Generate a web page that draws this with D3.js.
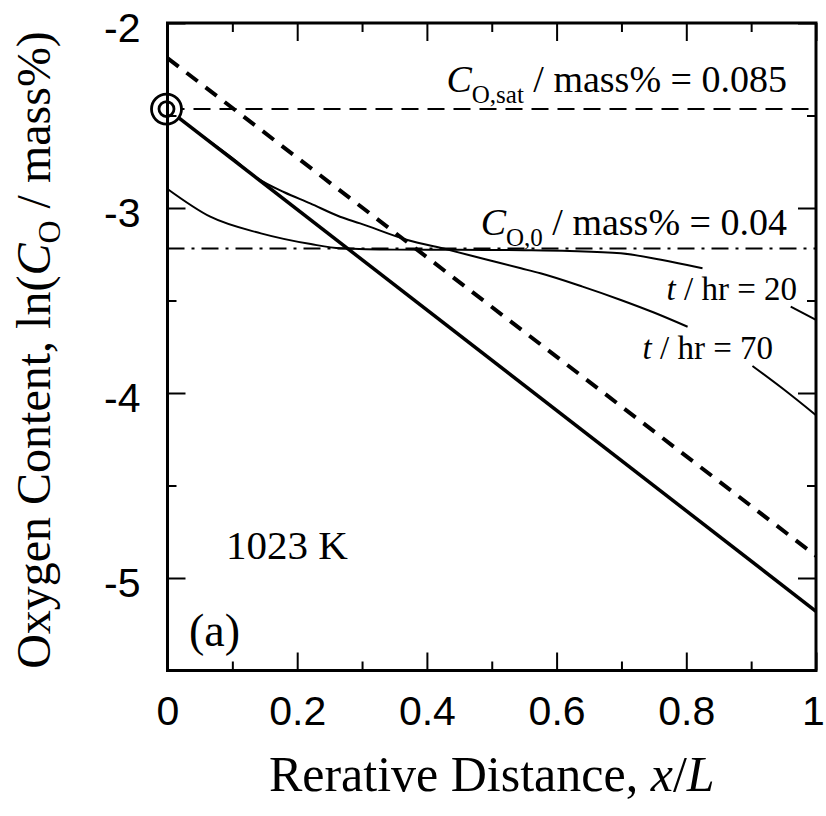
<!DOCTYPE html>
<html>
<head>
<meta charset="utf-8">
<script src="https://cdn.jsdelivr.net/npm/d3@7"></script>
<style>
  html, body { margin: 0; padding: 0; background: #fff; }
  svg { display: block; }
</style>
</head>
<body>
<svg id="chart" width="826" height="816"></svg>
<script>
// ---- data ----
const xTickValues = [0, 0.2, 0.4, 0.6, 0.8, 1];
const xTickLabels = ["0", "0.2", "0.4", "0.6", "0.8", "1"];
const xMinorTicks = [0.1, 0.3, 0.5, 0.7, 0.9];
const yTickValues = [-2, -3, -4, -5];
const yTickLabels = ["-2", "-3", "-4", "-5"];
const yMinorTicks = [-2.5, -3.5, -4.5];

// saturation and initial oxygen contents (mass%)
const cSat = 0.085;
const cInitial = 0.04;

// straight lines: x at start/end and ln(C) values
const solidX = [0, 1];
const solidY = [-2.465, -5.18];
const dashedX = [0, 1];
const dashedY = [-2.19, -4.88];

// t = 70 hr profile (two pieces, broken by its label)
const t70X = [0, 0.05, 0.10, 0.139, 0.18, 0.22, 0.266, 0.297, 0.37, 0.432, 0.49, 0.545, 0.575, 0.64, 0.699, 0.75, 0.802];
const t70Y = [-2.465, -2.60, -2.73, -2.84, -2.915, -2.975, -3.047, -3.083, -3.173, -3.225, -3.277, -3.326, -3.353, -3.425, -3.497, -3.565, -3.642];
const t70TailX = [0.902, 0.95, 1.0];
const t70TailY = [-3.854, -3.98, -4.12];

// t = 20 hr profile (two pieces, broken by its label)
const t20X = [0, 0.066, 0.144, 0.221, 0.267, 0.35, 0.45, 0.55, 0.62, 0.699, 0.761, 0.825];
const t20Y = [-2.897, -3.047, -3.137, -3.195, -3.218, -3.225, -3.226, -3.228, -3.232, -3.245, -3.28, -3.326];
const t20TailX = [0.961, 1.0];
const t20TailY = [-3.533, -3.605];

// ---- layout ----
const svg = d3.select("#chart");
const plotLeft = 167.5, plotRight = 816, plotTop = 23, plotBottom = 670.5;

const x = d3.scaleLinear().domain([0, 1]).range([plotLeft, plotRight]);
const y = d3.scaleLinear().domain([-2, -5.5]).range([plotTop, plotBottom]);

const sans = "'Liberation Sans', Arial, Helvetica, sans-serif";
const serif = "'Liberation Serif', 'Times New Roman', Times, serif";

const toPts = (xs, ys) => xs.map((v, i) => [v, ys[i]]);
const line = d3.line().x(d => x(d[0])).y(d => y(d[1]));
const smooth = d3.line().x(d => x(d[0])).y(d => y(d[1])).curve(d3.curveMonotoneX);

// reference levels
svg.append("line")
  .attr("x1", x(0)).attr("x2", x(1))
  .attr("y1", y(Math.log(cInitial))).attr("y2", y(Math.log(cInitial)))
  .attr("stroke", "#000").attr("stroke-width", 2)
  .attr("stroke-dasharray", "17,7,3,7");

svg.append("line")
  .attr("x1", x(0)).attr("x2", x(1))
  .attr("y1", y(Math.log(cSat))).attr("y2", y(Math.log(cSat)))
  .attr("stroke", "#000").attr("stroke-width", 2)
  .attr("stroke-dasharray", "17,9");

// diffusion profiles
[[t70X, t70Y], [t70TailX, t70TailY], [t20X, t20Y], [t20TailX, t20TailY]].forEach(([xs, ys]) => {
  svg.append("path")
    .attr("d", smooth(toPts(xs, ys)))
    .attr("fill", "none").attr("stroke", "#000").attr("stroke-width", 2);
});

// thick straight lines
svg.append("path")
  .attr("d", line(toPts(dashedX, dashedY)))
  .attr("fill", "none").attr("stroke", "#000").attr("stroke-width", 4)
  .attr("stroke-dasharray", "14,10");

svg.append("path")
  .attr("d", line(toPts(solidX, solidY)))
  .attr("fill", "none").attr("stroke", "#000").attr("stroke-width", 3.5);

// surface saturation marker
const mk = svg.append("g").attr("transform", `translate(${x(0) - 1},${y(Math.log(cSat))})`);
mk.append("circle").attr("r", 15).attr("fill", "#fff").attr("stroke", "#000").attr("stroke-width", 2.8);
mk.append("circle").attr("r", 7.5).attr("fill", "#fff").attr("stroke", "#000").attr("stroke-width", 2.8);

// frame
svg.append("rect")
  .attr("x", plotLeft).attr("y", plotTop)
  .attr("width", plotRight - plotLeft).attr("height", plotBottom - plotTop)
  .attr("fill", "none").attr("stroke", "#000").attr("stroke-width", 3);

// axes with inward ticks
function styleAxis(g) {
  g.select(".domain").remove();
  g.selectAll(".tick line").attr("stroke", "#000").attr("stroke-width", 2);
  g.selectAll(".tick text").attr("fill", "#000").attr("font-family", sans).attr("font-size", 41);
}

svg.append("g").attr("transform", `translate(0,${plotBottom})`)
  .call(d3.axisBottom(x).tickValues(xTickValues).tickSize(-18).tickPadding(25)
    .tickFormat((d, i) => xTickLabels[i]))
  .call(styleAxis)
  .call(g => g.selectAll(".tick text").filter(d => d === 1).attr("dx", -3));
svg.append("g").attr("transform", `translate(0,${plotBottom})`)
  .call(d3.axisBottom(x).tickValues(xMinorTicks).tickSize(-9).tickFormat(""))
  .call(styleAxis);
svg.append("g").attr("transform", `translate(0,${plotTop})`)
  .call(d3.axisTop(x).tickValues(xTickValues).tickSize(-18).tickFormat(""))
  .call(styleAxis);
svg.append("g").attr("transform", `translate(0,${plotTop})`)
  .call(d3.axisTop(x).tickValues(xMinorTicks).tickSize(-9).tickFormat(""))
  .call(styleAxis);

svg.append("g").attr("transform", `translate(${plotLeft},0)`)
  .call(d3.axisLeft(y).tickValues(yTickValues).tickSize(-18).tickPadding(27)
    .tickFormat((d, i) => yTickLabels[i]))
  .call(styleAxis)
  .call(g => g.selectAll(".tick text").attr("dy", "0.45em"));
svg.append("g").attr("transform", `translate(${plotLeft},0)`)
  .call(d3.axisLeft(y).tickValues(yMinorTicks).tickSize(-9).tickFormat(""))
  .call(styleAxis);
svg.append("g").attr("transform", `translate(${plotRight},0)`)
  .call(d3.axisRight(y).tickValues(yTickValues).tickSize(-18).tickFormat(""))
  .call(styleAxis);
svg.append("g").attr("transform", `translate(${plotRight},0)`)
  .call(d3.axisRight(y).tickValues(yMinorTicks).tickSize(-9).tickFormat(""))
  .call(styleAxis);

// axis titles
const xt = svg.append("text")
  .attr("x", (plotLeft + plotRight) / 2).attr("y", 791)
  .attr("text-anchor", "middle")
  .attr("font-family", serif).attr("font-size", 50).attr("fill", "#000");
xt.append("tspan").text("Rerative Distance, ");
xt.append("tspan").attr("font-style", "italic").text("x");
xt.append("tspan").text("/");
xt.append("tspan").attr("font-style", "italic").text("L");

const yt = svg.append("text")
  .attr("transform", "translate(50,350) rotate(-90)")
  .attr("text-anchor", "middle")
  .attr("font-family", serif).attr("font-size", 48).attr("fill", "#000");
yt.append("tspan").text("Oxygen Content, ln(");
yt.append("tspan").attr("font-style", "italic").text("C");
yt.append("tspan").attr("font-size", 32).attr("dy", 10).text("O");
yt.append("tspan").attr("dy", -10).text(" / mass%)");

// annotations
function concLabel(sub, rest, yBase) {
  const t = svg.append("text")
    .attr("x", 787).attr("y", yBase)
    .attr("text-anchor", "end")
    .attr("font-family", serif).attr("font-size", 38).attr("fill", "#000");
  t.append("tspan").attr("font-style", "italic").text("C");
  t.append("tspan").attr("font-size", 25).attr("dy", 11).text(sub);
  t.append("tspan").attr("dy", -11).text(rest);
}
concLabel("O,sat", " / mass% = " + cSat, 91.7);
concLabel("O,0", " / mass% = " + cInitial, 235);

function timeLabel(hours, xEnd, yBase) {
  const t = svg.append("text")
    .attr("x", xEnd).attr("y", yBase)
    .attr("text-anchor", "end")
    .attr("font-family", serif).attr("font-size", 33).attr("fill", "#000");
  t.append("tspan").attr("font-style", "italic").text("t");
  t.append("tspan").text(" / hr = " + hours);
}
timeLabel(20, 797, 299.5);
timeLabel(70, 773, 358.5);

svg.append("text")
  .attr("x", 226).attr("y", 559)
  .attr("font-family", serif).attr("font-size", 41).attr("fill", "#000")
  .text("1023 K");

svg.append("text")
  .attr("x", 189).attr("y", 646)
  .attr("font-family", serif).attr("font-size", 46).attr("fill", "#000")
  .text("(a)");
</script>
</body>
</html>
